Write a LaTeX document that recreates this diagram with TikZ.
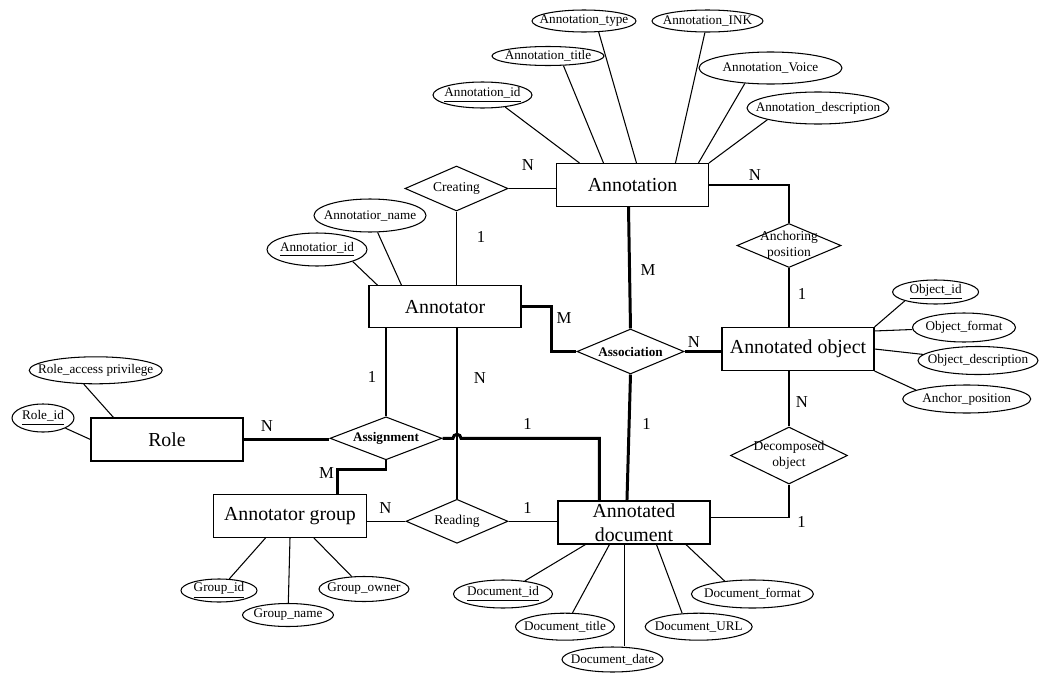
\documentclass[tikz,border=0pt]{standalone}
\usepackage{fontspec}
\setmainfont{Liberation Serif}
\usetikzlibrary{shapes.geometric}

\begin{document}
\begin{tikzpicture}[x=0.02cm, y=-0.02cm,
    entity/.style={draw, rectangle, line width=0.6pt, inner sep=0pt,
      minimum width=3.04cm, minimum height=0.86cm, align=center,
      font=\fontsize{11.3}{13.6}\selectfont},
    relation/.style 2 args={draw, diamond, line width=0.6pt, inner sep=0pt,
      minimum width=#1, minimum height=#2},
    attribute/.style 2 args={draw, ellipse, line width=0.6pt, inner sep=0pt,
      minimum width=#1, minimum height=#2},
    attrtext/.style={font=\fontsize{7.5}{9}\selectfont, inner sep=0pt},
    reltext/.style={font=\fontsize{7.7}{9}\selectfont, inner sep=0pt, align=center},
    boldtext/.style={font=\fontsize{7.5}{9}\selectfont\bfseries, inner sep=0pt},
    card/.style={font=\fontsize{9.5}{11}\selectfont, inner sep=0pt},
    link/.style={line width=0.6pt},
    medium/.style={line width=1.1pt},
    strong/.style={line width=1.7pt}]
  \useasboundingbox (0,0) rectangle (1039,673);

  % entities
  \node[entity] (annotation) at (632.5,185) {Annotation};
  \node[entity, minimum height=0.84cm] (annotator) at (445,306.7) {Annotator};
  \node[entity] (role) at (167,439.5) {Role};
  \node[entity, minimum width=3.06cm] (group) at (290,516) {Annotator group};
  \node[entity] (document) at (634,522.5) {Annotated\\document};
  \node[entity] (object) at (798,349) {Annotated object};

  % relationships
  \node[relation={2.06cm}{0.9cm}, label={[reltext]center:Creating}] (creating) at (456.5,188.5) {};
  \node[relation={2.24cm}{0.86cm}, label={[boldtext]center:Assignment}] (assignment) at (386,438.3) {};
  \node[relation={2.14cm}{0.9cm}, label={[boldtext]center:Association}] (association) at (630.5,351.5) {};
  \node[relation={2.08cm}{0.88cm}, label={[reltext]center:Anchoring\\position}] (anchoring) at (789,245.5) {};
  \node[relation={2.34cm}{1.14cm}, label={[reltext]center:Decomposed\\object}] (decomposed) at (789,455.5) {};
  \node[relation={2.04cm}{0.88cm}, label={[reltext]center:Reading}] (reading) at (457,521.3) {};

  % attributes
  \node[attribute={1.98cm}{0.52cm}, label={[attrtext]center:\underline{Annotation\_id}}] (aid) at (482.5,95) {};
  \node[attribute={2.24cm}{0.38cm}, label={[attrtext]center:Annotation\_title}] (atitle) at (548,56) {};
  \node[attribute={2.08cm}{0.44cm}, label={[attrtext]center:Annotation\_type}] (atype) at (584,21) {};
  \node[attribute={2.22cm}{0.44cm}, label={[attrtext]center:Annotation\_INK}] (aink) at (707.5,21) {};
  \node[attribute={2.86cm}{0.64cm}, label={[attrtext]center:Annotation\_Voice}] (avoice) at (770.5,68) {};
  \node[attribute={2.84cm}{0.64cm}, label={[attrtext]center:Annotation\_description}] (adesc) at (818,108) {};
  \node[attribute={2.24cm}{0.66cm}, label={[attrtext]center:Annotatior\_name}] (tname) at (370,215.5) {};
  \node[attribute={2.0cm}{0.66cm}, label={[attrtext]center:\underline{Annotatior\_id}}] (tid) at (317,249.5) {};
  \node[attribute={2.66cm}{0.54cm}, label={[attrtext]center:Role\_access privilege}] (raccess) at (95.7,370.3) {};
  \node[attribute={1.24cm}{0.56cm}, label={[attrtext]center:\underline{Role\_id}}] (rid) at (43,418) {};
  \node[attribute={1.72cm}{0.48cm}, label={[attrtext]center:\underline{Object\_id}}] (oid) at (935.6,292) {};
  \node[attribute={2.06cm}{0.58cm}, label={[attrtext]center:Object\_format}] (oformat) at (964,327.5) {};
  \node[attribute={2.4cm}{0.56cm}, label={[attrtext]center:Object\_description}] (odesc) at (978,360.5) {};
  \node[attribute={2.56cm}{0.56cm}, label={[attrtext]center:Anchor\_position}] (oanchor) at (966.7,399) {};
  \node[attribute={1.52cm}{0.46cm}, label={[attrtext]center:\underline{Group\_id}}] (gid) at (219,590.5) {};
  \node[attribute={1.82cm}{0.46cm}, label={[attrtext]center:Group\_name}] (gname) at (288,615) {};
  \node[attribute={1.8cm}{0.5cm}, label={[attrtext]center:Group\_owner}] (gowner) at (364,589) {};
  \node[attribute={1.98cm}{0.56cm}, label={[attrtext]center:\underline{Document\_id}}] (did) at (503,594) {};
  \node[attribute={1.98cm}{0.54cm}, label={[attrtext]center:Document\_title}] (dtitle) at (565,626.7) {};
  \node[attribute={2.02cm}{0.5cm}, label={[attrtext]center:Document\_date}] (ddate) at (612.5,659.5) {};
  \node[attribute={2.14cm}{0.54cm}, label={[attrtext]center:Document\_URL}] (durl) at (698.7,626.7) {};
  \node[attribute={2.44cm}{0.56cm}, label={[attrtext]center:Document\_format}] (dformat) at (752.4,594) {};

  % cardinalities
  \node[card] (c1) at (528,165) {N};
  \node[card] (c2) at (755,175) {N};
  \node[card] (c3) at (481,237) {1};
  \node[card] (c4) at (648,270) {M};
  \node[card] (c5) at (564,318) {M};
  \node[card] (c6) at (802,294) {1};
  \node[card] (c7) at (694,342) {N};
  \node[card] (c8) at (372,377) {1};
  \node[card] (c9) at (480,378) {N};
  \node[card] (c10) at (267,426) {N};
  \node[card] (c11) at (527.5,423.5) {1};
  \node[card] (c12) at (646.5,424) {1};
  \node[card] (c13) at (802,402) {N};
  \node[card] (c14) at (326.5,473) {M};
  \node[card] (c15) at (385.5,508) {N};
  \node[card] (c16) at (527.5,508) {1};
  \node[card] (c17) at (801.5,522) {1};

  \coordinate (hop) at (reading.north |- assignment.east);
  \coordinate (dtop) at ([xshift=0.84cm]document.north west);

  % attribute links
  \begin{scope}[link]
    \draw (aid.-28) -- ([xshift=0.47cm]annotation.north west);
    \draw (atitle.-32) -- ([xshift=0.95cm]annotation.north west);
    \draw (atype.-37) -- ([xshift=1.61cm]annotation.north west);
    \draw (aink) -- ([xshift=2.39cm]annotation.north west);
    \draw (avoice.211) -- ([xshift=2.85cm]annotation.north west);
    \draw (adesc.south west) -- (annotation.north east);
    \draw (tname) -- ([xshift=0.66cm]annotator.north west);
    \draw (tid.south east) -- ([xshift=0.18cm]annotator.north west);
    \draw (raccess.229) -- ([xshift=0.46cm]role.north west);
    \draw (rid) -- (role.west);
    \draw (oid.south west) -- (object.north east);
    \draw (oformat) -- ([yshift=-0.08cm]object.north east);
    \draw (odesc) -- (object.east);
    \draw (oanchor.170) -- (object.south east);
    \draw (gid) -- ([xshift=1.05cm]group.south west);
    \draw (gname) -- (group.south);
    \draw (gowner) -- ([xshift=2.02cm]group.south west);
    \draw (did) -- ([xshift=0.56cm]document.south west);
    \draw (dtitle) -- ([xshift=1.04cm]document.south west);
    \draw ([xshift=1.34cm]document.south west) coordinate (dd) -- (dd |- ddate.north);
    \draw (durl.141) -- ([xshift=1.98cm]document.south west);
    \draw (dformat.155) -- ([xshift=2.57cm]document.south west);
  \end{scope}

  % relationship links
  \begin{scope}[link]
    \draw (creating.east) -- (creating.east -| annotation.west);
    \draw (creating.south) -- (creating.south |- annotator.north);
    \draw (reading.north |- annotator.south) -- (reading.north);
    \draw (reading.west -| group.east) -- (reading.west);
    \draw (reading.east) -- (reading.east -| document.west);
    \draw (decomposed.north) -- (decomposed.north |- object.south);
    \draw (anchoring.south) -- (anchoring.south |- object.north);
    \draw (annotation.east) -| (anchoring.north);
  \end{scope}
  \draw[medium] ([yshift=0.1cm]document.east) -| (decomposed.south);
  \begin{scope}[strong]
    \draw (assignment.north |- annotator.south) -- (assignment.north);
    \draw (role.east) -- (role.east -| assignment.west);
    \draw (assignment.east) -- ([xshift=-0.08cm]hop)
      arc[start angle=180, end angle=0, radius=0.08cm] -- (assignment.east -| dtop) -- (dtop);
    \draw (assignment.south) -- ++(0,9) -| ([xshift=2.5cm]group.north west);
    \draw ([xshift=-0.08cm]annotation.south) -- (association.north);
    \draw (association.south) -- ([xshift=1.39cm]document.north west);
    \draw (association.east) -- (association.east -| object.west);
    \draw (annotator.east) -- ++(29.6,0) |- (association.west);
  \end{scope}
\end{tikzpicture}
\end{document}
